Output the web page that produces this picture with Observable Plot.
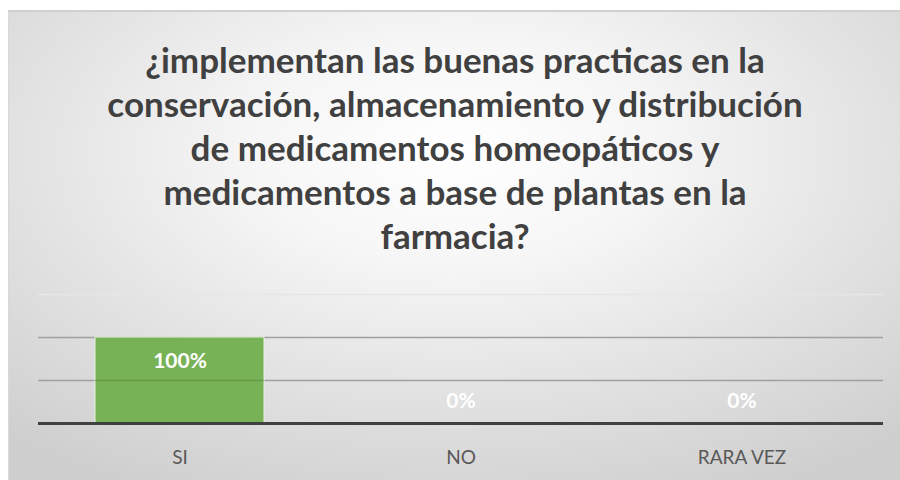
<!DOCTYPE html>
<html>
<head>
<meta charset="utf-8">
<script src="https://cdn.jsdelivr.net/npm/d3@7"></script>
<script src="https://cdn.jsdelivr.net/npm/@observablehq/plot@0.6"></script>
<style>
  html, body { margin: 0; padding: 0; background: #ffffff; }
  #frame {
    position: absolute; left: 8px; top: 10px; width: 892px; height: 470px;
    background: radial-gradient(ellipse 75% 80% at 50% 30%, #ffffff 0%, #f6f6f6 30%, #e2e2e2 65%, #cfcfcf 100%);
    border-top: 2px solid #d0d0d0;
    border-left: 1px solid #d8d8d8;
    box-sizing: border-box; overflow: hidden;
  }
  #title {
    position: absolute; left: 0; top: 25px; width: 892px; text-align: center;
    font-family: Lato, "Open Sans", sans-serif; font-weight: bold; font-size: 35px;
    line-height: 44px; color: #404040;
  }
  #chart { position: absolute; left: -1px; top: 259px; }
</style>
</head>
<body>
<div id="frame">
  <div id="title"></div>
  <div id="chart"></div>
</div>
<script>
const titleLines = [
  "¿implementan las buenas practicas en la",
  "conservación, almacenamiento y distribución",
  "de medicamentos homeopáticos y",
  "medicamentos a base de plantas en la",
  "farmacia?"
];
const categories = ["SI", "NO", "RARA VEZ"];
const values = [1.0, 0.0, 0.0];
const labels = ["100%", "0%", "0%"];
const gridTicks = [0.5, 1.0];
const topTick = [1.5];

document.getElementById("title").innerHTML = titleLines.join("<br>");

const data = categories.map((c, i) => ({cat: c, value: values[i], label: labels[i]}));

const chart = Plot.plot({
  width: 892,
  height: 207,
  marginLeft: 30,
  marginRight: 17,
  marginTop: 23,
  marginBottom: 55,
  style: {background: "transparent", fontFamily: "Lato, 'Open Sans', sans-serif"},
  x: {domain: categories, paddingInner: 0.4, paddingOuter: 0.2, label: null},
  y: {domain: [0, 1.5], axis: null},
  marks: [
    Plot.ruleY(topTick, {stroke: "#e6e6e6", strokeWidth: 1.5}),
    Plot.ruleY(gridTicks, {stroke: "#a0a0a0", strokeWidth: 1.5}),
    Plot.barY(data, {x: "cat", y: "value", fill: "#78b257", stroke: "#e6f1de", strokeWidth: 1}),
    Plot.tickY(data.filter(d => d.value > gridTicks[0]), {x: "cat", y: () => gridTicks[0], stroke: "#3f6b28", strokeOpacity: 0.35, strokeWidth: 1.5}),
    Plot.ruleY([0], {stroke: "#404040", strokeWidth: 3}),
    Plot.text(data.filter(d => d.value > 0), {x: "cat", y: "value", text: "label", dy: 24, fill: "#ffffff", fontSize: 21, fontWeight: "bold"}),
    Plot.text(data.filter(d => d.value === 0), {x: "cat", y: "value", text: "label", dy: -22, fill: "#ffffff", fontSize: 21, fontWeight: "bold"}),
    Plot.axisX({tickSize: 0, tickPadding: 27, fontSize: 19, color: "#595959"})
  ]
});
document.getElementById("chart").appendChild(chart);
</script>
</body>
</html>
